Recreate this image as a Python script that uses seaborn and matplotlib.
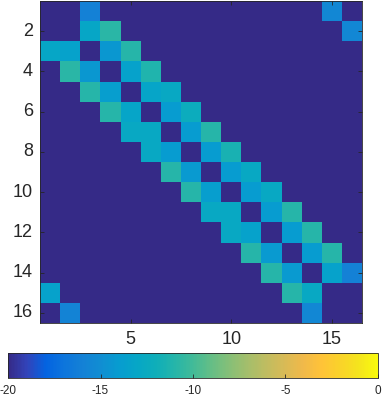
import matplotlib
matplotlib.use("Agg")
import matplotlib.pyplot as plt
import numpy as np
import pandas as pd
import seaborn as sns
from matplotlib.colors import LinearSegmentedColormap

# 16x16 matrix, background -20; nonzero entries keyed by (row, col), 1-based
background = -20.0
entries = {
    (1, 3): -16.0, (1, 15): -15.5,
    (2, 3): -13.0, (2, 4): -10.8, (2, 16): -15.5,
    (3, 1): -13.0, (3, 2): -13.5, (3, 4): -14.3, (3, 5): -11.0,
    (4, 2): -10.8, (4, 3): -14.3, (4, 5): -13.5, (4, 6): -11.2,
    (5, 3): -11.0, (5, 4): -13.8, (5, 6): -13.2, (5, 7): -12.8,
    (6, 4): -11.0, (6, 5): -13.2, (6, 7): -14.0, (6, 8): -12.3,
    (7, 5): -12.8, (7, 6): -12.8, (7, 8): -14.0, (7, 9): -11.0,
    (8, 6): -12.8, (8, 7): -14.0, (8, 9): -14.0, (8, 10): -11.5,
    (9, 7): -11.0, (9, 8): -14.2, (9, 10): -14.0, (9, 11): -12.8,
    (10, 8): -11.0, (10, 9): -13.8, (10, 11): -14.0, (10, 12): -12.8,
    (11, 9): -12.8, (11, 10): -12.8, (11, 12): -14.0, (11, 13): -11.0,
    (12, 10): -12.8, (12, 11): -13.5, (12, 13): -14.0, (12, 14): -11.0,
    (13, 11): -11.0, (13, 12): -14.2, (13, 14): -14.0, (13, 15): -11.0,
    (14, 12): -11.0, (14, 13): -14.2, (14, 15): -13.5, (14, 16): -16.0,
    (15, 1): -13.5, (15, 13): -11.0, (15, 14): -12.8,
    (16, 2): -15.8, (16, 14): -15.5,
}
n = 16
labels = list(range(1, n + 1))
x_ticks = [5, 10, 15]
y_ticks = [2, 4, 6, 8, 10, 12, 14, 16]
cbar_ticks = [-20, -15, -10, -5, 0]

mat = np.full((n, n), background)
for (r, c), v in entries.items():
    mat[r - 1, c - 1] = v
df = pd.DataFrame(mat, index=labels, columns=labels)

# parula-like colormap
parula_pts = [
    [0.2081, 0.1663, 0.5292], [0.1959, 0.2645, 0.7279], [0.0117, 0.3875, 0.8820],
    [0.0498, 0.4586, 0.8641], [0.0779, 0.5040, 0.8384], [0.0641, 0.5570, 0.8240],
    [0.0265, 0.6137, 0.8135], [0.0228, 0.6535, 0.7768], [0.0590, 0.6838, 0.7254],
    [0.1453, 0.7098, 0.6646], [0.2586, 0.7317, 0.5954], [0.3953, 0.7459, 0.5244],
    [0.5300, 0.7491, 0.4661], [0.6473, 0.7456, 0.4188], [0.7525, 0.7384, 0.3768],
    [0.8507, 0.7299, 0.3360], [0.9450, 0.7261, 0.2886], [0.9990, 0.7653, 0.2164],
    [0.9789, 0.8271, 0.1633], [0.9589, 0.8949, 0.1132], [0.9763, 0.9831, 0.0538],
]
parula = LinearSegmentedColormap.from_list("parula", parula_pts)

plt.rcParams["font.family"] = ["Liberation Sans", "DejaVu Sans"]
plt.rcParams["axes.unicode_minus"] = False

fig = plt.figure(figsize=(3.87, 4.0), dpi=100)
ax = fig.add_axes([0.1034, 0.1925, 0.8320, 0.8050])
cax = fig.add_axes([0.0207, 0.055, 0.9560, 0.0625])

sns.heatmap(
    df,
    cmap=parula,
    vmin=-20,
    vmax=0,
    ax=ax,
    cbar_ax=cax,
    cbar_kws={"orientation": "horizontal", "ticks": cbar_ticks},
)

ax.set_xticks([t - 0.5 for t in x_ticks])
ax.set_xticklabels([str(t) for t in x_ticks], rotation=0)
ax.set_yticks([t - 0.5 for t in y_ticks])
ax.set_yticklabels([str(t) for t in y_ticks], rotation=0)
ax.set_xlabel("")
ax.set_ylabel("")
ax.tick_params(axis="both", direction="in", length=3, width=0.6, color="#262626",
               labelsize=13, labelcolor="#262626", top=True, right=True)
ax.tick_params(axis="x", pad=6)
ax.tick_params(axis="y", pad=5)
for s in ax.spines.values():
    s.set_visible(True)
    s.set_linewidth(0.6)
    s.set_color("#262626")

cax.tick_params(direction="in", length=3, width=0.6, color="#262626",
                labelsize=8.5, labelcolor="#262626", pad=5)
cax.set_xticklabels([str(t) for t in cbar_ticks])
for s in cax.spines.values():
    s.set_linewidth(0.6)
    s.set_color("#262626")

fig.savefig("out.png", dpi=100)
